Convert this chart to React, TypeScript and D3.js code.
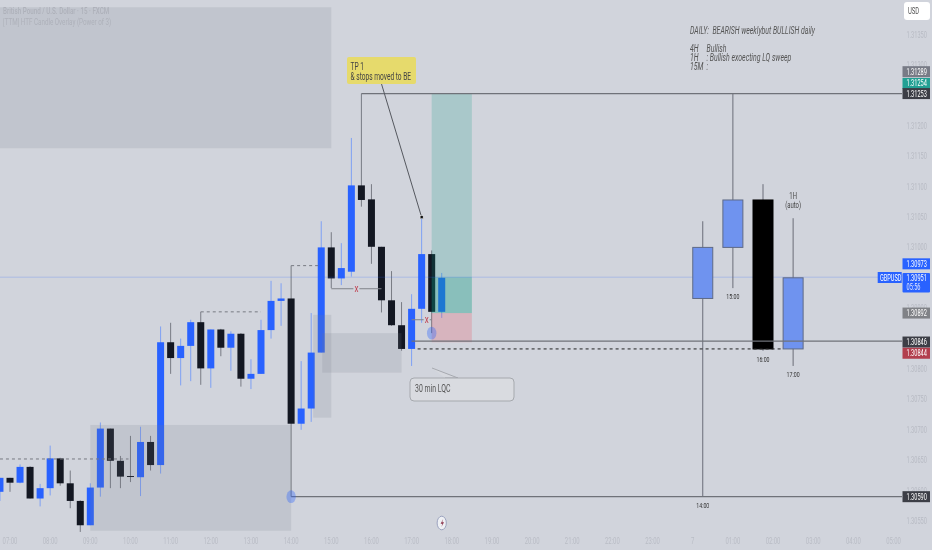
import React from "react";
import * as d3 from "d3";

const W = 932, H = 550, PLOT_R = 902;

// 15-minute candles, prices in 1e-5 units; first bar index is -1
const opens = [130598,130621,130613,130639,130587,130604,130653,130612,130583,130543,130605,130702,130649,130624,130622,130680,130642,130844,130818,130838,130877,130801,130865,130835,130858,130784,130792,130864,130912,130916,130710,130735,130827,131000,130949,130960,131102,131079,131001,130913,130872,130833,130899,130989,130894];
const highs = [130621,130621,130643,130640,130611,130674,130654,130633,130584,130612,130712,130702,130657,130690,130705,130690,130870,130876,130850,130881,130894,130865,130866,130862,130859,130816,130881,130945,130941,130970,130813,130892,131043,131025,131007,131180,131253,131104,131001,130961,130910,130923,131048,130995,130958];
const lows = [130583,130598,130612,130587,130574,130592,130608,130571,130532,130543,130590,130604,130604,130614,130591,130633,130628,130792,130773,130780,130774,130769,130821,130797,130771,130767,130792,130850,130871,130590,130700,130713,130827,130933,130938,130952,131067,130973,130893,130871,130830,130805,130876,130859,130884];
const closes = [130621,130613,130639,130587,130604,130653,130612,130583,130543,130605,130702,130649,130623,130623,130680,130642,130844,130818,130838,130877,130801,130865,130835,130858,130784,130792,130864,130912,130916,130710,130735,130827,131000,130949,130966,131102,131078,131001,130913,130872,130833,130899,130989,130894,130950];

// Higher-timeframe overlay candles
const htfLabels = ["14:00","15:00","16:00","17:00"];
const htfIndex = [69,72,75,78];
const htfOpen = [130916,131000,131078,130833];
const htfHigh = [131043,131253,131104,131048];
const htfLow = [130590,130933,130830,130805];
const htfClose = [131000,131078,130833,130950];

const priceTicks = [131350,131300,131200,131150,131100,131050,131000,130900,130800,130750,130700,130650,130600,130550];
const timeLabels = ["07:00","08:00","09:00","10:00","11:00","12:00","13:00","14:00","15:00","16:00","17:00","18:00","19:00","20:00","21:00","22:00","23:00","7","01:00","02:00","03:00","04:00","05:00"];

// [from bar, to bar, top price, bottom price]
const zones = [[-1,32,131395,131163],[8,28,130708,130534],[30.2,32,130889,130720],[31.1,39,130859,130794]];
const dashedLevels = [[-1,11.8,130652],[19,25,130894],[28,31,130970]];
const crossLines = [[32,37,34.5,130932],[40,42,41.5,130881]];
const levelLines = [[35,131253],[40,130846],[28,130590]];
const priceLabels = [
  {p:131289,t:"1.31289",bg:"#787b86",dy:0},
  {p:131254,t:"1.31254",bg:"#22a094",dy:-9.5},
  {p:131253,t:"1.31253",bg:"#3c3e46",dy:0},
  {p:130973,t:"1.30973",bg:"#2962ff",dy:0},
  {p:130892,t:"1.30892",bg:"#808287",dy:0},
  {p:130846,t:"1.30846",bg:"#3c3e46",dy:1},
  {p:130844,t:"1.30844",bg:"#b23f4e",dy:11},
  {p:130590,t:"1.30590",bg:"#3c3e46",dy:0},
];

const x = d3.scaleLinear().domain([0, 88]).range([10, 10 + 88 * 10.04]);
const y = d3.scaleLinear().domain([130550, 131350]).range([521, 34.6]);

const FONT = "Roboto, sans-serif";
function T({ x: tx, y: ty, size = 8.5, fill = "#444", anchor = "start", italic = false, sx = 0.66, weight = 400, children }: any) {
  return (
    <text transform={`translate(${tx},${ty}) scale(${sx},1)`} fontFamily={FONT} fontSize={size} fill={fill}
      textAnchor={anchor} fontStyle={italic ? "italic" : "normal"} fontWeight={weight}>{children}</text>
  );
}

export default function App() {
  const line = d3.line<[number, number]>();
  const bars = opens.map((o, i) => ({ i: i - 1, o, h: highs[i], l: lows[i], c: closes[i] }));
  return (
    <svg width={W} height={H} style={{ position: "fixed", left: 0, top: 0, filter: "blur(0.45px)" }}>
      <rect width={W} height={H} fill="#d1d4dc" />

      {priceTicks.map(p => (
        <T key={p} x={906.5} y={y(p) + 3} fill="#b7bac3">{(p / 100000).toFixed(5)}</T>
      ))}
      {timeLabels.map((t, i) => (
        <T key={t} x={x(i * 4)} y={544} fill="#b9bcc5" anchor="middle" size={9}>{t}</T>
      ))}

      {/* candles */}
      {bars.map(b => {
        const up = b.c >= b.o;
        const top = y(Math.max(b.o, b.c)), bot = y(Math.min(b.o, b.c));
        return (
          <g key={b.i}>
            <path d={line([[x(b.i), y(b.h)], [x(b.i), y(b.l)]])!} stroke={up ? "#7ea0f4" : "#787b84"} strokeWidth={1} />
            <rect x={x(b.i) - 3.5} y={top} width={7} height={Math.max(bot - top, 1)} fill={up ? "#2962ff" : "#131722"} />
          </g>
        );
      })}

      {/* zones */}
      {zones.map((z, i) => (
        <rect key={i} x={x(z[0])} y={y(z[2])} width={x(z[1]) - x(z[0])} height={y(z[3]) - y(z[2])} fill="rgba(120,123,134,0.17)" />
      ))}

      {/* long position */}
      <rect x={x(42)} y={y(131253)} width={x(46) - x(42)} height={y(130892) - y(131253)} fill="rgba(8,153,129,0.2)" />
      <rect x={x(42)} y={y(130951)} width={x(46) - x(42)} height={y(130892) - y(130951)} fill="rgba(8,153,129,0.2)" />
      <rect x={x(42)} y={y(130892)} width={x(46) - x(42)} height={y(130844) - y(130892)} fill="rgba(242,54,69,0.2)" />

      {/* current price */}
      <line x1={0} x2={PLOT_R} y1={y(130951)} y2={y(130951)} stroke="rgba(41,98,255,0.22)" strokeWidth={1} />

      {/* HTF candles */}
      {htfIndex.map((n, i) => {
        const up = htfClose[i] >= htfOpen[i];
        const top = y(Math.max(htfOpen[i], htfClose[i])), bot = y(Math.min(htfOpen[i], htfClose[i]));
        return (
          <g key={n}>
            <path d={line([[x(n), y(htfHigh[i])], [x(n), y(htfLow[i])]])!} stroke="#6a6d78" strokeWidth={1} />
            <rect x={x(n) - 10} y={top} width={20} height={bot - top} fill={up ? "#6f93ef" : "#000"} stroke={up ? "#5f6a86" : "#000"} strokeWidth={1} />
            <T x={x(n)} y={y(htfLow[i]) + 11} size={7.5} sx={0.7} fill="#333" anchor="middle">{htfLabels[i]}</T>
          </g>
        );
      })}
      <T x={x(78)} y={199} size={8.5} sx={0.7} fill="#444" anchor="middle">1H</T>
      <T x={x(78)} y={208} size={8.5} sx={0.7} fill="#444" anchor="middle">(auto)</T>

      {/* level lines */}
      {levelLines.map((l, i) => (
        <line key={i} x1={x(l[0])} x2={PLOT_R} y1={y(l[1])} y2={y(l[1])} stroke="#6f7279" strokeWidth={1.2} />
      ))}
      <line x1={x(40.6)} x2={x(77)} y1={y(130833)} y2={y(130833)} stroke="#222" strokeWidth={1} strokeDasharray="3 3" />
      {dashedLevels.map((l, i) => (
        <line key={i} x1={x(l[0])} x2={x(l[1])} y1={y(l[2])} y2={y(l[2])} stroke="#777a82" strokeWidth={1} strokeDasharray="3 3" />
      ))}
      {crossLines.map((l, i) => (
        <g key={i}>
          <line x1={x(l[0])} x2={x(l[1])} y1={y(l[3])} y2={y(l[3])} stroke="#80838a" strokeWidth={1} />
          <rect x={x(l[2]) - 3} y={y(l[3]) - 4} width={6} height={8} fill="#d1d4dc" />
          <T x={x(l[2])} y={y(l[3]) + 3} size={10} sx={0.8} fill="#c0404f" anchor="middle">x</T>
        </g>
      ))}

      {/* anchors */}
      <ellipse cx={x(28)} cy={y(130590)} rx={4.7} ry={6.4} fill="rgba(41,98,255,0.35)" />
      <ellipse cx={x(42)} cy={y(130859)} rx={4.7} ry={6.4} fill="rgba(41,98,255,0.35)" />

      {/* TP note */}
      <path d={line([[x(37), y(131269)], [x(41), y(131048) - 1]])!} stroke="#55585f" strokeWidth={1} />
      <rect x={x(41) - 1.5} y={y(131048) - 2.5} width={3} height={3} fill="#111" stroke="#eee" strokeWidth={0.5} />
      <rect x={347} y={57} width={69} height={27} rx={2} fill="#e6da6c" />
      <T x={350.5} y={70} size={10} sx={0.66} fill="#444">TP 1</T>
      <T x={350.5} y={79.5} size={10} sx={0.66} fill="#444">&amp; stops moved to BE</T>

      {/* LQC callout */}
      <path d={line([[432, 368], [458, 378], [445, 378]])!} fill="#d6d8de" stroke="#9a9da3" strokeWidth={0.8} />
      <rect x={410} y={378} width={104} height={23} rx={4} fill="#d9dbe0" stroke="#a6a9ae" strokeWidth={1} />
      <T x={415} y={392} size={10.5} sx={0.66} fill="#555">30 min LQC</T>

      {/* notes */}
      <T x={690} y={33.5} size={10.5} sx={0.66} italic fill="#555">DAILY:&#160;&#160;BEARISH weeklybut BULLISH daily</T>
      <T x={690} y={51.5} size={10.5} sx={0.66} italic fill="#555">4H</T>
      <T x={706.5} y={51.5} size={10.5} sx={0.66} italic fill="#555">Bullish</T>
      <T x={690} y={60.5} size={10.5} sx={0.66} italic fill="#555">1H</T>
      <T x={706.5} y={60.5} size={10.5} sx={0.66} italic fill="#555">: Bullish exoecting LQ sweep</T>
      <T x={690} y={69.5} size={10.5} sx={0.66} italic fill="#555">15M</T>
      <T x={706.5} y={69.5} size={10.5} sx={0.66} italic fill="#555">:</T>

      {/* legend */}
      <T x={3} y={14} size={9.5} sx={0.66} weight={500} fill="#aeb1ba">British Pound / U.S. Dollar · 15 · FXCM</T>
      <T x={3} y={25} size={9.5} sx={0.66} fill="#aeb1ba">[TTM] HTF Candle Overlay (Power of 3)</T>

      {/* session-break icon */}
      <ellipse cx={x(43)} cy={523} rx={4.6} ry={6.8} fill="#eef0f4" stroke="#8a93b5" strokeWidth={0.8} />
      <path d="M443.2 519 L440.6 523.8 L442.4 523.8 L441.4 527 L444 522.2 L442.2 522.2 Z" fill="#8a3048" />

      {/* USD */}
      <rect x={904} y={2} width={26} height={18} rx={3} fill="#fff" />
      <T x={908} y={14} size={9} sx={0.66} fill="#555">USD</T>

      {/* price labels */}
      {priceLabels.map(l => {
        const cy = y(l.p) + l.dy;
        return (
          <g key={l.t + l.bg}>
            <rect x={902.5} y={cy - 5.5} width={27.5} height={11} fill={l.bg} />
            <T x={906.5} y={cy + 3} fill="#fff">{l.t}</T>
          </g>
        );
      })}
      <rect x={902.5} y={273} width={27.5} height={19.5} rx={1} fill="#2962ff" />
      <T x={906.5} y={281} fill="#fff">1.30951</T>
      <T x={906.5} y={290} fill="#e4e9ff">05:56</T>
      <rect x={877.7} y={272} width={24} height={11} fill="#2962ff" />
      <T x={880} y={280.5} fill="#fff">GBPUSD</T>
    </svg>
  );
}
